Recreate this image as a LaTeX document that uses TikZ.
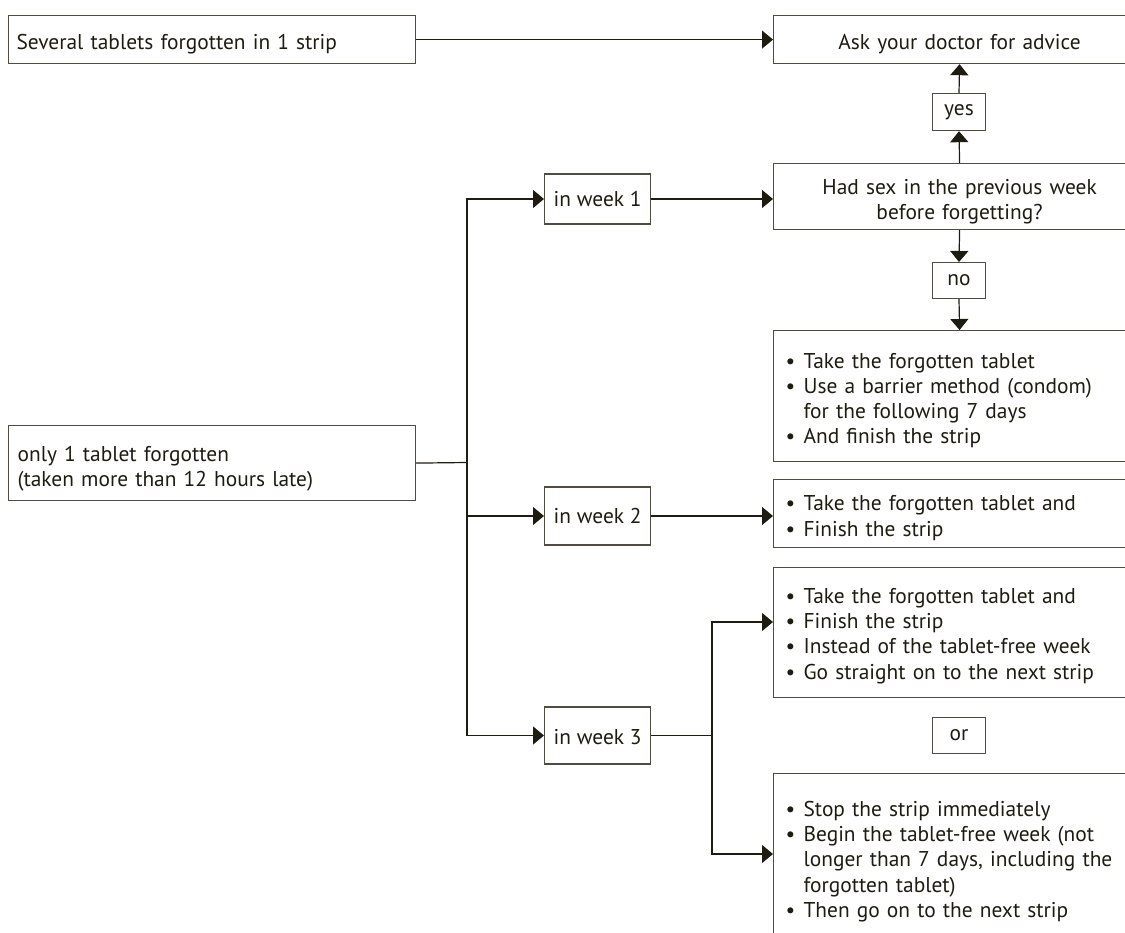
\documentclass[tikz,border=0pt]{standalone}
\usepackage{fontspec}
\setmainfont{PT Sans}
\usetikzlibrary{arrows.meta}
\definecolor{ink}{RGB}{30,27,16}
\definecolor{edge}{RGB}{80,76,66}
\newcommand{\bul}{\makebox[20pt][l]{\hspace{2pt}\textbullet}}
\newcommand{\ind}{\hspace*{20pt}}
\newcommand{\dn}[1]{\rule{0pt}{#1}}
\begin{document}
\begin{tikzpicture}[x=1pt,y=-1pt,
  font=\fontsize{21.4}{25.3}\selectfont, text=ink,
  box/.style={draw=edge, line width=1.2pt, inner sep=0pt},
  lbox/.style={box, anchor=north west, align=left, inner xsep=#1},
  lbox/.default=10pt,
  cbox/.style={box, anchor=north west, align=center, inner xsep=10pt, minimum width=372pt, text width=352pt},
  tag/.style={box, anchor=north, minimum width=53pt, minimum height=36pt},
  wk/.style={box, anchor=west, minimum width=106pt},
  arr/.style={draw=ink, line width=1.2pt, -{Triangle[length=11pt,width=18pt]}},
  ln/.style={draw=ink, line width=1.2pt}]
\useasboundingbox (0,0) rectangle (1125,933);
\clip (0,0) rectangle (1125,933);

\node[lbox=8pt, minimum width=407pt, minimum height=48pt, text width=391pt] (several) at (8,15) {\dn{24pt}Several tablets forgotten in 1 strip};
\node[cbox, minimum height=48pt] (ask) at (773,15) {\dn{24pt}Ask your doctor for advice};
\node[tag, minimum height=37pt] (yes) at (959,93) {yes};
\node[cbox, minimum height=66pt] (hadsex) at (773,163) {\dn{26pt}Had sex in the previous week\\before forgetting?};
\node[tag] (no) at (959,262) {no};
\node[lbox, minimum width=372pt, minimum height=131pt, text width=352pt] (b1) at (773,330)
  {\dn{24pt}\bul Take the forgotten tablet\\ \bul Use a barrier method (condom)\\ \ind for the following 7 days\\ \bul And finish the strip};
\node[lbox=9pt, minimum width=407pt, minimum height=75pt, text width=389pt] (only1) at (8,425)
  {\dn{26pt}only 1 tablet forgotten\\(taken more than 12 hours late)};
\node[wk, minimum height=50pt] (week1) at (544,199) {in week 1};
\node[wk, minimum height=58pt] (week2) at (544,516) {in week 2};
\node[wk, minimum height=57pt] (week3) at (544,735.5) {\dn{18pt}in week 3};
\node[lbox, minimum width=372pt, minimum height=68pt, text width=352pt] (b2) at (773,479)
  {\dn{24pt}\bul Take the forgotten tablet and\\ \bul Finish the strip};
\node[lbox, minimum width=372pt, minimum height=130pt, text width=352pt] (b3a) at (773,567)
  {\dn{22pt}\bul Take the forgotten tablet and\\ \bul Finish the strip\\ \bul Instead of the tablet-free week\\ \bul Go straight on to the next strip};
\node[tag] (or) at (959,717) {or};
\node[lbox, minimum width=372pt, minimum height=171pt, text width=352pt] (b3b) at (773,773)
  {\dn{20pt}\bul Stop the strip immediately\\ \bul Begin the tablet-free week (not\\ \ind longer than 7 days, including the\\ \ind forgotten tablet)\\ \bul Then go on to the next strip};

\coordinate (trunk) at (467,462.5);
\coordinate (split) at (712,735.5);
\coordinate (y3a) at (0,622);
\coordinate (y3b) at (0,854);

\draw[arr] (several.east) -- (ask.west);
\draw[arr] (hadsex.north) -- (yes.south);
\draw[arr] (yes.north) -- (ask.south);
\draw[arr] (hadsex.south) -- (no.north);
\draw[arr] (no.south) -- (b1.north);
\draw[ln] (only1.east) -- (trunk);
\draw[arr] (trunk) |- (week1.west);
\draw[arr] (trunk) |- (week2.west);
\draw[arr] (trunk) |- (week3.west);
\draw[arr] (week1.east) -- (week1.east -| hadsex.west);
\draw[arr] (week2.east) -- (week2.east -| b2.west);
\draw[ln] (week3.east) -- (split);
\draw[arr] (split) |- (b3a.west |- y3a);
\draw[arr] (split) |- (b3b.west |- y3b);
\end{tikzpicture}
\end{document}
